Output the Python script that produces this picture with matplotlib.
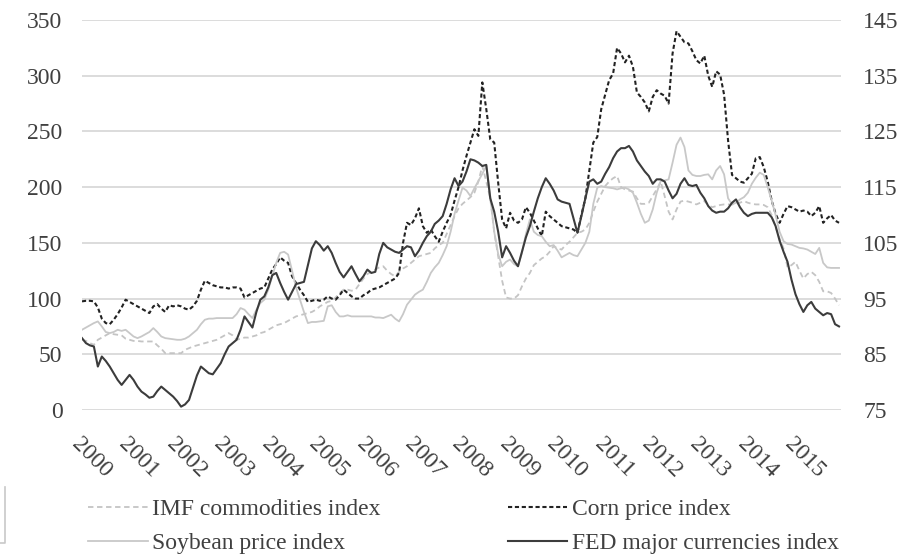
import numpy as np
import matplotlib.pyplot as plt
from matplotlib.lines import Line2D
from matplotlib.transforms import ScaledTranslation

# monthly index values, Jan 2000 - Dec 2015
imf = [63, 62, 60, 58.5, 63, 65, 67, 69, 68, 67.5, 67, 64,
       63, 62, 62, 61.5, 61.5, 61.5, 61.5, 58, 55, 51, 51, 51,
       51, 51, 54, 55.5, 57, 58, 59, 60, 61, 62, 63, 65,
       67, 69, 67, 63, 64, 65, 65, 66, 67, 69, 70, 72,
       74, 76, 77, 78, 80, 82, 84, 85, 86, 87, 88, 90,
       93, 95, 97, 98, 101, 105, 108, 108, 107, 108, 113, 118,
       122, 124, 126, 128, 129, 125, 122, 120, 124, 127, 129, 132,
       135, 138, 139, 140, 141, 145, 148, 150, 158, 166, 174, 181,
       185, 188, 191, 195, 205, 219, 205, 190, 160, 138, 116, 101,
       100, 100, 103, 111, 118, 123, 130, 133, 136, 138, 142, 147,
       145, 144, 148, 151, 155, 159, 160, 162, 168, 178, 187, 194,
       201, 205, 208, 210, 200, 198, 197, 196, 190, 185, 185, 186,
       192, 198, 205, 192, 178, 171, 180, 187, 188, 187, 186, 184.5,
       186, 187.5, 184, 182, 183, 184, 184.5, 184.5, 184.5, 185, 186, 187.5,
       186, 185, 184.5, 184.5, 184, 182, 175, 164, 154, 145, 128, 130,
       133, 125, 118, 122, 124, 121, 115, 106.5, 106.5, 105, 100, 94]

corn = [97.5, 98, 98, 97.5, 92, 82, 78, 77, 81, 86, 92, 99,
        97, 95, 93, 91, 89, 87, 93, 95, 91, 88, 94, 93,
        94, 93, 91, 90, 93, 98, 108, 116, 114, 112, 111, 110,
        110, 109, 110, 110, 109, 101, 103, 105, 107, 109, 110, 118,
        126, 131, 137, 134, 132, 120, 114, 108, 103, 97, 98, 99,
        98, 99, 102, 100, 99, 103, 108, 105, 102, 100, 100, 103,
        105, 108, 109, 110, 112, 114, 116, 118, 123, 150, 168, 166,
        172, 181, 165, 159, 162, 156, 151, 160, 168, 175, 188, 200,
        215, 228, 240, 252, 246, 294, 270, 243, 240, 204, 171, 163,
        177, 170, 168, 171, 182, 177, 170, 163, 156, 178, 174, 171,
        168, 165, 164, 163, 162, 159, 175, 190, 215, 240, 245, 270,
        283, 296, 302, 325, 320, 312, 318, 308, 285, 281, 276, 268,
        281, 287, 284, 282, 275, 320, 340, 335, 330, 329, 322, 314,
        311, 318, 300, 290, 304, 301, 283, 242, 211, 208, 205, 204,
        208, 212, 226, 227, 218, 205, 188, 176, 168, 176, 183, 182,
        180, 178, 179, 178, 174, 177, 183, 168, 172, 175, 170, 168]

soy = [72, 74, 76, 78, 79.5, 75, 70, 69, 70, 72, 71, 72,
       69, 66, 64.5, 66, 68, 70, 73.5, 70, 66, 64.5, 64, 63.5,
       63, 63, 64, 66, 69, 72, 77, 81, 82, 82, 82.5, 82.5,
       82.5, 82.5, 82.5, 86, 91.5, 90, 86, 82.5, 90, 96, 99, 108,
       120, 132, 141, 142, 139.5, 125, 110, 99, 88, 78, 79, 79,
       79.5, 80, 93, 94, 88, 84, 84, 85, 84, 84, 84, 84,
       84, 84, 83, 83, 82.5, 84, 85.5, 82, 79.5, 86, 94.5, 99,
       103.5, 106, 108, 115, 123, 128, 132, 139, 147, 160, 176, 188,
       199.5, 197, 192, 199, 205.5, 212, 219, 192, 160, 140, 129, 133,
       135, 131, 129, 141, 158, 171, 160, 157, 156, 151, 147, 148,
       143, 137, 139, 141, 139, 138, 144, 150, 160, 185, 199.5, 201,
       200, 199.5, 199, 198, 199, 199.5, 198, 195, 186, 176, 168, 170,
       180, 195, 205.5, 206, 207, 222, 238, 244.5, 236, 215, 211, 210,
       210, 211, 211.5, 207, 215, 219, 211.5, 190, 184.5, 186, 189, 191,
       195, 203, 208.5, 213, 211, 200, 188, 175, 160, 151.5, 149, 148.5,
       147, 145.5, 145, 144, 142, 140, 145.5, 132, 128, 127.5, 127.5, 127.5]

# FED major currencies index (right axis)
fed = [87.9, 87.0, 86.6, 86.4, 82.8, 84.6, 83.8, 82.8, 81.6, 80.4, 79.5, 80.4,
       81.3, 80.4, 79.2, 78.3, 77.8, 77.2, 77.4, 78.4, 79.2, 78.6, 78.0, 77.4,
       76.6, 75.6, 76.0, 76.8, 79.0, 81.2, 82.8, 82.2, 81.6, 81.4, 82.4, 83.4,
       85.0, 86.4, 87.0, 87.6, 89.4, 91.8, 90.8, 89.8, 92.6, 94.8, 95.4, 97.0,
       99.2, 99.6, 97.8, 96.2, 94.8, 96.2, 97.6, 97.8, 98.0, 101.0, 104.0, 105.3,
       104.6, 103.6, 104.4, 103.2, 101.4, 99.8, 98.8, 99.8, 100.8, 99.4, 98.1, 99.0,
       100.2, 99.6, 99.8, 103.0, 105.0, 104.2, 103.8, 103.4, 103.2, 103.8, 104.4, 104.2,
       102.6, 103.6, 105.0, 106.2, 107.0, 108.4, 109.0, 109.8, 112.0, 114.6, 116.6, 115.2,
       116.0, 117.8, 120.0, 119.8, 119.4, 118.8, 119.0, 113.0, 110.6, 107.0, 102.4, 104.4,
       103.2, 101.8, 100.8, 103.4, 106.0, 108.0, 110.6, 113.0, 115.0, 116.6, 115.6, 114.4,
       112.8, 112.4, 112.2, 112.0, 109.4, 106.8, 109.8, 113.0, 116.0, 116.4, 115.6, 116.0,
       117.4, 118.6, 120.2, 121.4, 122.0, 122.0, 122.4, 121.4, 119.8, 118.8, 117.8, 117.0,
       115.6, 116.4, 116.4, 116.0, 114.4, 113.0, 113.8, 115.6, 116.6, 115.4, 115.2, 115.4,
       114.0, 113.0, 111.6, 110.8, 110.4, 110.6, 110.6, 111.2, 112.2, 112.8, 111.4, 110.4,
       109.8, 110.2, 110.4, 110.4, 110.4, 110.4, 109.6, 108.0, 105.4, 103.4, 101.6, 98.4,
       95.8, 94.0, 92.6, 93.8, 94.4, 93.2, 92.6, 92.0, 92.4, 92.2, 90.4, 90.0]

years = [str(y) for y in range(2000, 2016)]
left_ticks = [0, 50, 100, 150, 200, 250, 300, 350]
right_ticks = [75, 85, 95, 105, 115, 125, 135, 145]

plt.rcParams['font.family'] = ['Liberation Serif', 'DejaVu Serif']
plt.rcParams['font.size'] = 17
txt = '#404040'

fig = plt.figure(figsize=(9.02, 5.56), dpi=100)
ax = fig.add_axes([0.0909, 0.2626, 0.8415, 0.7014])
ax2 = ax.twinx()

x = np.arange(len(imf))
l1, = ax.plot(x, imf, color='#c4c4c4', lw=1.3, dashes=(3, 2))
l2, = ax.plot(x, corn, color='#222222', lw=1.5, dashes=(2, 1.3))
l3, = ax.plot(x, soy, color='#c8c8c8', lw=1.3)
l4, = ax2.plot(x, fed, color='#3c3c3c', lw=1.5)

ax.set_xlim(0, len(imf) - 0.5)
ax.set_ylim(0, 350)
ax2.set_ylim(75, 145)
ax.set_yticks(left_ticks)
ax2.set_yticks(right_ticks)
ax.yaxis.grid(True, color='#d6d6d6', lw=1.2)
ax.set_axisbelow(True)

ax.set_xticks(x[::12])
ax.set_xticklabels(years, rotation=-45, ha='left', va='top', rotation_mode='anchor')
# nudge the slanted year labels a little to the right
shift = ScaledTranslation(0.05, 0, fig.dpi_scale_trans)
for lab in ax.get_xticklabels():
    lab.set_transform(lab.get_transform() + shift)

for a in (ax, ax2):
    for s in a.spines.values():
        s.set_visible(False)
    a.tick_params(length=0, colors=txt, labelsize=17)
ax.tick_params(axis='y', pad=14)
ax2.tick_params(axis='y', pad=16)
ax.tick_params(axis='x', pad=17)

fig.legend([l1, l3, l2, l4],
           ['IMF commodities index', 'Soybean price index',
            'Corn price index', 'FED major currencies index'],
           ncol=2, loc='upper left', bbox_to_anchor=(0.085, 0.124),
           frameon=False, handlelength=2.5, handletextpad=0.2,
           columnspacing=5.4, labelspacing=0.52, borderpad=0,
           labelcolor=txt, fontsize=17)

# thin frame edge in the lower left corner
fig.add_artist(Line2D([0.005, 0.005, 0.0], [0.124, 0.023, 0.023],
                      transform=fig.transFigure, color='#c8c8c8', lw=1.2))

fig.savefig('out.png', dpi=100)
